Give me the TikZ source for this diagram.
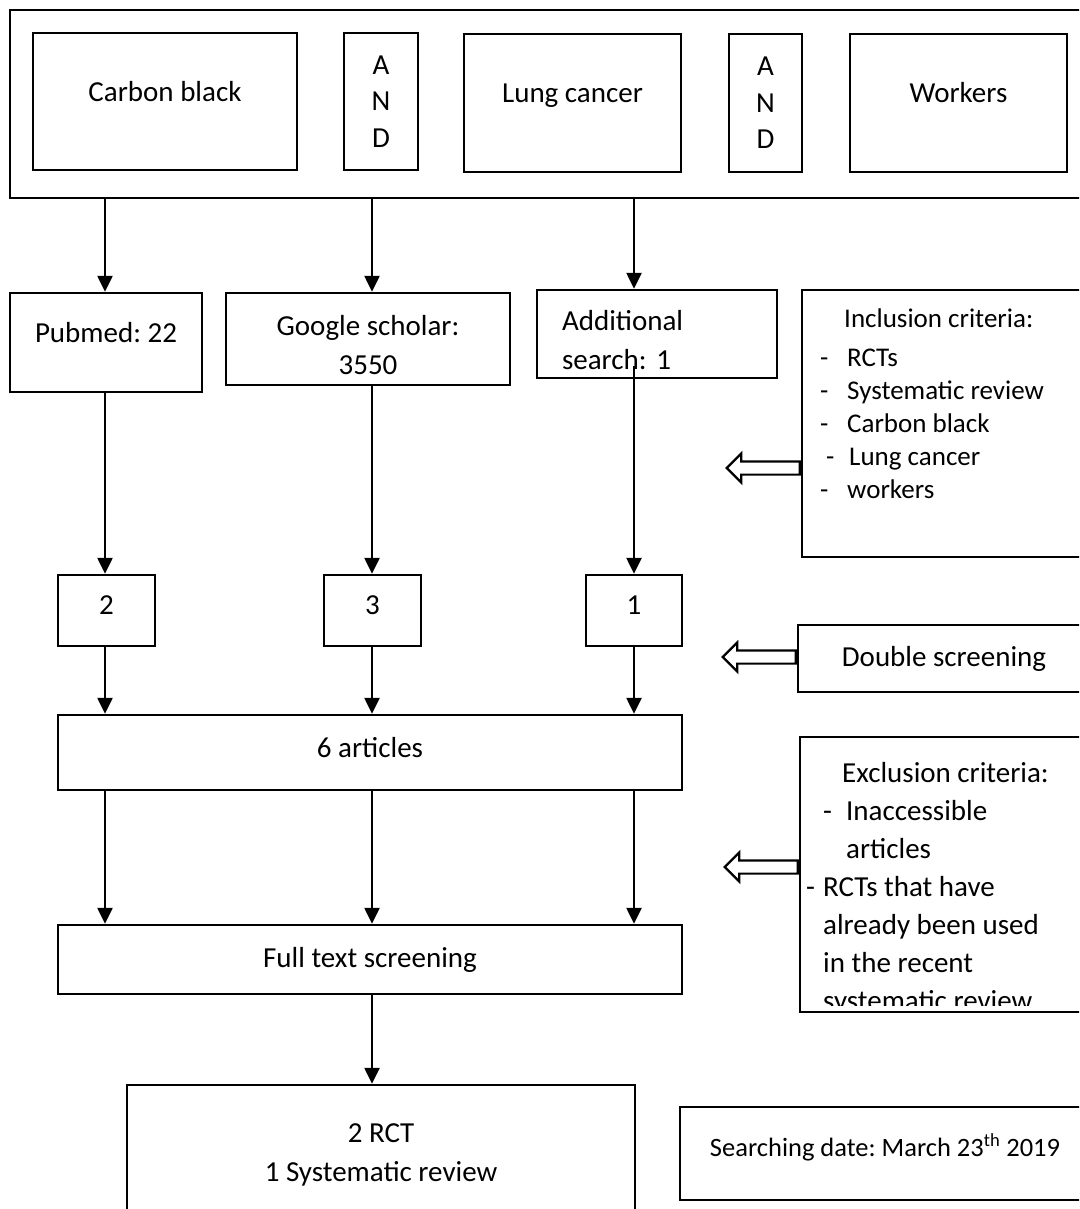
\documentclass[tikz,border=0pt]{standalone}
\usepackage{fontspec}
\setmainfont{Carlito}
\usetikzlibrary{positioning}
\usetikzlibrary{arrows.meta}
\usetikzlibrary{shapes.arrows}
\frenchspacing

\begin{document}
\begin{tikzpicture}[x=1pt, y=-1pt, >={Triangle[length=16pt,width=15pt]},
            box/.style={draw=black, line width=2.4pt, rectangle, align=center, inner sep=0pt,
            font=\fontsize{29}{39}\selectfont},
            uptext/.style={text height=20pt, text depth=20pt},
            flow/.style={line width=2.4pt, ->},
            openarrow/.style={draw=black, line width=2.2pt, single arrow, shape border rotate=180,
            inner sep=5.5pt, single arrow head extend=8pt, minimum height=73pt, anchor=tail},
            listtext/.style={align=left, inner sep=0pt, anchor=base west}]
            \useasboundingbox (0,0) rectangle (1079,1209);
            \clip (0,0) rectangle (1079,1209);

            % search terms
            \node[box, minimum width=1085pt, minimum height=188pt] (terms) at (552.5,104) {};
            \node[box, uptext, minimum width=264pt, minimum height=137pt] (carbon) at (165,101.5) {Carbon black};
            \node[box, minimum width=74pt, minimum height=137pt, font=\fontsize{29}{36.5}\selectfont] (andA) at (381,101.5) {A\\N\\D};
            \node[box, uptext, minimum width=217pt, minimum height=138pt] (lung) at (572.5,103) {Lung cancer};
            \node[box, minimum width=73pt, minimum height=138pt, font=\fontsize{29}{36.5}\selectfont] (andB) at (765.5,103) {A\\N\\D};
            \node[box, uptext, minimum width=217pt, minimum height=138pt] (workers) at (958.5,103) {Workers};

            % databases
            \node[box, uptext, minimum width=192pt, minimum height=99pt] (pubmed) at (106,342.5) {Pubmed: 22};
            \node[box, text height=71pt, text depth=0pt, minimum width=284pt, minimum height=92pt] (scholar) at (368,339) {Google scholar:\\3550};
            \node[box, align=left, text width=190pt, text depth=27pt, minimum width=240pt, minimum height=88pt] (extra) at (657,334) {Additional\\search: 1};

            \node[box, minimum width=288pt, minimum height=267pt] (inclusion) at (946,423.5) {};
            \node[listtext, font=\fontsize{27}{33}\selectfont] (incltext) at (812,498) {\hspace*{32pt}Inclusion criteria:\\[6pt]
                \hspace*{8pt}\makebox[27pt][l]{-}RCTs\\
                \hspace*{8pt}\makebox[27pt][l]{-}Systematic review\\
                \hspace*{8pt}\makebox[27pt][l]{-}Carbon black\\
                \hspace*{14pt}\makebox[23pt][l]{-}Lung cancer\\
                \hspace*{8pt}\makebox[27pt][l]{-}workers};

            % screening
            \node[box, text depth=10pt, minimum width=97pt, minimum height=71pt] (hitsA) at (106.5,610.5) {2};
            \node[box, text depth=10pt, minimum width=97pt, minimum height=71pt] (hitsB) at (372.5,610.5) {3};
            \node[box, text depth=10pt, minimum width=96pt, minimum height=71pt] (hitsC) at (634,610.5) {1};
            \node[box, minimum width=292pt, minimum height=67pt] (double) at (944,658.5) {Double screening};

            \node[box, text depth=10pt, minimum width=624pt, minimum height=75pt] (six) at (370,752.5) {6 articles};
            \node[box, minimum width=624pt, minimum height=69pt] (fulltext) at (370,959.5) {Full text screening};
            \node[box, minimum width=508pt, minimum height=140pt] (result) at (381,1155) {2 RCT\\1 Systematic review};

            \node[box, minimum width=290pt, minimum height=275pt] (exclusion) at (945,874.5) {};
            \begin{scope}
                \clip (exclusion.north west) rectangle ([yshift=8pt]exclusion.south east);
                \node[listtext, font=\fontsize{29}{38}\selectfont] (excltext) at (806,1010) {\hspace*{36pt}Exclusion criteria:\\
                    \hspace*{17pt}\makebox[23pt][l]{-}Inaccessible\\
                    \hspace*{40pt}articles\\
                    \makebox[17pt][l]{-}RCTs that have\\
                    \hspace*{17pt}already been used\\
                    \hspace*{17pt}in the recent\\
                    \hspace*{17pt}systematic review};
            \end{scope}

            \node[box, minimum width=410pt, minimum height=93pt, font=\fontsize{26.5}{32}\selectfont,
            text height=21pt, text depth=16pt] (date) at (885,1153.5) {Searching date: March 23\textsuperscript{th} 2019};

            % side arrows
            \coordinate (inclY) at (0,468);
            \coordinate (doubleY) at (0,657);
            \coordinate (exclY) at (0,867);
            \node[openarrow] (inclarrow) at (inclusion.west |- inclY) {};
            \node[openarrow] (doublearrow) at (double.west |- doubleY) {};
            \node[openarrow] (exclarrow) at (exclusion.west |- exclY) {};

            % flow
            \coordinate (colA) at (105,0);
            \coordinate (colB) at (372,0);
            \coordinate (colC) at (634,0);
            \draw[flow] (terms.south -| colA) -- (pubmed.north -| colA);
            \draw[flow] (terms.south -| colB) -- (scholar.north -| colB);
            \draw[flow] (terms.south -| colC) -- (extra.north -| colC);
            \draw[flow] (pubmed.south -| colA) -- (hitsA.north -| colA);
            \draw[flow] (scholar.south -| colB) -- (hitsB.north -| colB);
            \draw[flow] ([yshift=13pt]extra.south -| colC) -- (hitsC.north -| colC);
            \draw[flow] (hitsA.south -| colA) -- (six.north -| colA);
            \draw[flow] (hitsB.south -| colB) -- (six.north -| colB);
            \draw[flow] (hitsC.south -| colC) -- (six.north -| colC);
            \draw[flow] (six.south -| colA) -- (fulltext.north -| colA);
            \draw[flow] (six.south -| colB) -- (fulltext.north -| colB);
            \draw[flow] (six.south -| colC) -- (fulltext.north -| colC);
            \draw[flow] (fulltext.south -| colB) -- (result.north -| colB);
        \end{tikzpicture}
\end{document}
